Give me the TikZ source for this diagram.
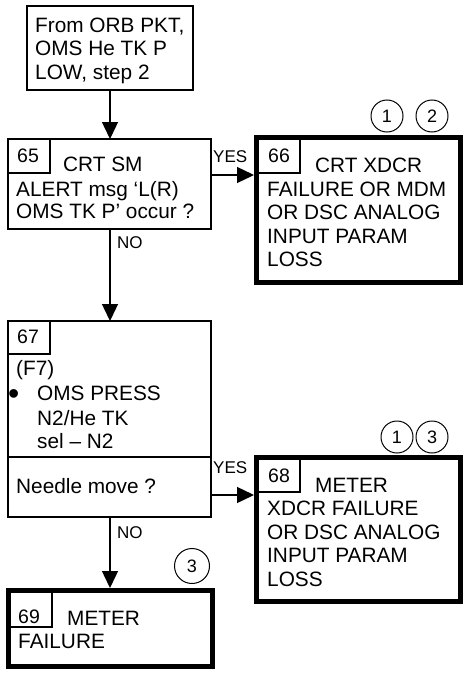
\documentclass[tikz,border=0pt]{standalone}
\usepackage{fontspec}
\setmainfont{Liberation Sans}
\usetikzlibrary{arrows.meta}
\begin{document}
\begin{tikzpicture}[x=1pt,y=-1pt,
  txt/.style={anchor=base west, inner sep=0pt, font=\fontsize{20.8}{23.5}\selectfont},
  numtxt/.style={anchor=base west, inner sep=0pt, font=\fontsize{19.5}{22}\selectfont},
  lbl/.style={anchor=base west, inner sep=0pt, font=\fontsize{17}{20}\selectfont},
  thinbox/.style={draw, rectangle, line width=1.4pt, inner sep=0pt, outer sep=0pt, anchor=north west},
  numbox/.style={draw, rectangle, line width=1.2pt, inner sep=0pt, outer sep=0pt, anchor=north west},
  thickbox/.style={draw, rectangle, line width=5pt, inner sep=0pt, anchor=north west},
  flow/.style={line width=1.4pt, -{Triangle[length=17pt,width=16pt]}},
  callout/.style={draw, circle, line width=1pt, minimum size=32pt, inner sep=0pt, font=\fontsize{18}{20}\selectfont}]
\useasboundingbox (0,0) rectangle (463,677);
\fill[white] (0,0) rectangle (463,677);

% start box
\node[thinbox, minimum width=166pt, minimum height=84pt] (top) at (27,6) {};
\node[txt] (t1) at (35,32.5) {From ORB PKT,};
\node[txt] (t2) at (35,56) {OMS He TK P};
\node[txt] (t3) at (35,79.5) {LOW, step 2};

% box 65
\node[thinbox, minimum width=203pt, minimum height=90pt] (b65) at (8,139) {};
\node[numbox, minimum width=42pt, minimum height=34pt] (n65) at (8,139) {};
\node[numtxt] (l65) at (17,162) {65};
\node[txt] (a1) at (63,171) {CRT SM};
\node[txt] (a2) at (16,196) {ALERT msg ‘L(R)};
\node[txt] (a3) at (16,218.5) {OMS TK P’ occur ?};

% box 66
\node[numbox, minimum width=43.5pt, minimum height=35.5pt] (n66) at (256.5,137.5) {};
\node[thickbox, minimum width=204pt, minimum height=145pt] (b66) at (254,135) {};
\node[numtxt] (l66) at (268,162) {66};
\node[txt] (c1) at (315,172) {CRT XDCR};
\node[txt] (c2) at (267,196) {FAILURE OR MDM};
\node[txt] (c3) at (267,219.5) {OR DSC ANALOG};
\node[txt] (c4) at (267,243) {INPUT PARAM};
\node[txt] (c5) at (267,266.5) {LOSS};
\node[callout] (k1) at (387,116) {1};
\node[callout] (k2) at (432,116) {2};

% box 67
\node[thinbox, minimum width=203pt, minimum height=196pt] (b67) at (8,321) {};
\node[numbox, minimum width=42pt, minimum height=33pt] (n67) at (8,321) {};
\coordinate (div) at (0,457);
\draw[line width=1.4pt] (div -| b67.west) -- (div -| b67.east);
\node[numtxt] (l67) at (17,343) {67};
\node[txt] (d1) at (16,375) {(F7)};
\node[txt, font=\fontsize{32}{32}\selectfont] (d2b) at (8,404) {•};
\node[txt] (d2) at (37,400) {OMS PRESS};
\node[txt] (d3) at (37,425) {N2/He TK};
\node[txt] (d4) at (37,448) {sel – N2};
\node[txt] (d5) at (16,493) {Needle move ?};

% box 68
\node[numbox, minimum width=43.5pt, minimum height=34.5pt] (n68) at (256.5,457.5) {};
\node[thickbox, minimum width=204pt, minimum height=144pt] (b68) at (254,455) {};
\node[numtxt] (l68) at (268,482) {68};
\node[txt] (e1) at (315,492) {METER};
\node[txt] (e2) at (267,515.5) {XDCR FAILURE};
\node[txt] (e3) at (267,539) {OR DSC ANALOG};
\node[txt] (e4) at (267,562.5) {INPUT PARAM};
\node[txt] (e5) at (267,586) {LOSS};
\node[callout] (k3) at (397,437) {1};
\node[callout] (k4) at (432,437) {3};

% box 69
\node[numbox, minimum width=43.5pt, minimum height=36.5pt] (n69) at (8.5,590.5) {};
\node[thickbox, minimum width=204pt, minimum height=76pt] (b69) at (6,588) {};
\node[numtxt] (l69) at (18,623) {69};
\node[txt] (f1) at (67,625) {METER};
\node[txt] (f2) at (18,648.5) {FAILURE};
\node[callout, minimum size=35pt] (k5) at (192,566) {3};

% connectors
\coordinate (ya) at (0,175);
\coordinate (yb) at (0,495);
\draw[flow] (top.south) -- (top.south |- b65.north);
\draw[flow] (ya -| b65.east) -- (ya -| b66.west);
\draw[flow] (b65.south -| top.south) -- (b67.north -| top.south);
\draw[flow] (yb -| b67.east) -- (yb -| b68.west);
\draw[flow] (b67.south -| top.south) -- (b69.north -| top.south);

% labels
\node[lbl] (y1) at (213,162) {YES};
\node[lbl] (no1) at (117,248) {NO};
\node[lbl] (y2) at (213,473) {YES};
\node[lbl] (no2) at (117,538) {NO};
\end{tikzpicture}
\end{document}
